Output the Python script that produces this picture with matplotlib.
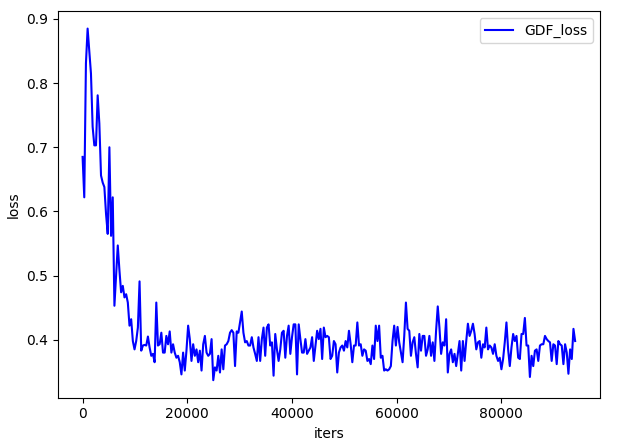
import numpy as np
import matplotlib
matplotlib.use("Agg")
import matplotlib.pyplot as plt

step = 320
loss_start = [0.685, 0.622, 0.831, 0.885, 0.850, 0.815, 0.732, 0.703, 0.703, 0.781,
              0.737, 0.656, 0.645, 0.638, 0.596, 0.565, 0.700, 0.562, 0.622, 0.453,
              0.500, 0.547, 0.508, 0.474, 0.484, 0.466, 0.471, 0.458, 0.422, 0.432,
              0.398, 0.385, 0.398, 0.419, 0.491, 0.383, 0.391, 0.392, 0.391, 0.405,
              0.388, 0.375, 0.378, 0.365, 0.458, 0.391]
loss_a = [0.393, 0.411, 0.380, 0.380, 0.406, 0.393, 0.413, 0.380, 0.393, 0.380,
          0.372, 0.375, 0.365, 0.346, 0.380, 0.352, 0.383, 0.422, 0.401, 0.367,
          0.393, 0.375, 0.385, 0.365, 0.383, 0.352, 0.393, 0.406, 0.380, 0.375,
          0.378, 0.401, 0.337, 0.357, 0.352, 0.375, 0.349, 0.385, 0.354, 0.391,
          0.393, 0.398, 0.411, 0.415, 0.411, 0.359, 0.413, 0.411, 0.427, 0.444]
loss_b = [0.411, 0.396, 0.398, 0.391, 0.391, 0.404, 0.388, 0.378, 0.367, 0.404,
          0.367, 0.401, 0.419, 0.375, 0.419, 0.424, 0.391, 0.396, 0.344, 0.409,
          0.385, 0.367, 0.385, 0.411, 0.414, 0.372, 0.406, 0.422, 0.378, 0.404,
          0.424, 0.424, 0.346, 0.424, 0.401, 0.380, 0.380, 0.401, 0.378, 0.383,
          0.388, 0.404, 0.367, 0.391, 0.414, 0.401, 0.417, 0.370, 0.419, 0.404]
loss_c = [0.406, 0.404, 0.370, 0.375, 0.398, 0.393, 0.349, 0.380, 0.388, 0.391,
          0.383, 0.398, 0.388, 0.414, 0.393, 0.365, 0.391, 0.391, 0.427, 0.391,
          0.393, 0.375, 0.385, 0.383, 0.367, 0.370, 0.362, 0.391, 0.370, 0.422,
          0.398, 0.422, 0.372, 0.375, 0.352, 0.354, 0.352, 0.354, 0.359, 0.398,
          0.422, 0.391, 0.420, 0.396, 0.380, 0.365, 0.406, 0.458, 0.417, 0.414]
loss_d = [0.375, 0.396, 0.404, 0.378, 0.357, 0.409, 0.383, 0.406, 0.406, 0.375,
          0.385, 0.406, 0.375, 0.396, 0.367, 0.414, 0.452, 0.419, 0.378, 0.396,
          0.391, 0.432, 0.349, 0.378, 0.385, 0.365, 0.378, 0.359, 0.378, 0.398,
          0.352, 0.398, 0.367, 0.398, 0.425, 0.406, 0.414, 0.425, 0.409, 0.385,
          0.396, 0.398, 0.372, 0.393, 0.388, 0.419, 0.385, 0.391, 0.388]
loss_e = [0.378, 0.393, 0.375, 0.367, 0.372, 0.354, 0.370, 0.396, 0.427, 0.385,
          0.359, 0.388, 0.409, 0.398, 0.406, 0.372, 0.370, 0.409, 0.409, 0.434,
          0.391, 0.391, 0.342, 0.375, 0.359, 0.383, 0.385, 0.367, 0.391, 0.393,
          0.393, 0.406, 0.401, 0.398, 0.396, 0.367, 0.393, 0.391, 0.362, 0.398,
          0.393, 0.391, 0.362, 0.393, 0.380, 0.347, 0.385, 0.370, 0.417, 0.398]

loss = np.array(loss_start + loss_a + loss_b + loss_c + loss_d + loss_e)
iters = np.arange(len(loss)) * step

fig, ax = plt.subplots(figsize=(6.3, 4.4), dpi=100)
ax.plot(iters, loss, color='blue', label='GDF_loss')
ax.set_xlabel("iters")
ax.set_ylabel("loss")
ax.legend(loc='upper right')
plt.subplots_adjust(left=0.092, right=0.952, top=0.975, bottom=0.096)
plt.savefig("out.png")
